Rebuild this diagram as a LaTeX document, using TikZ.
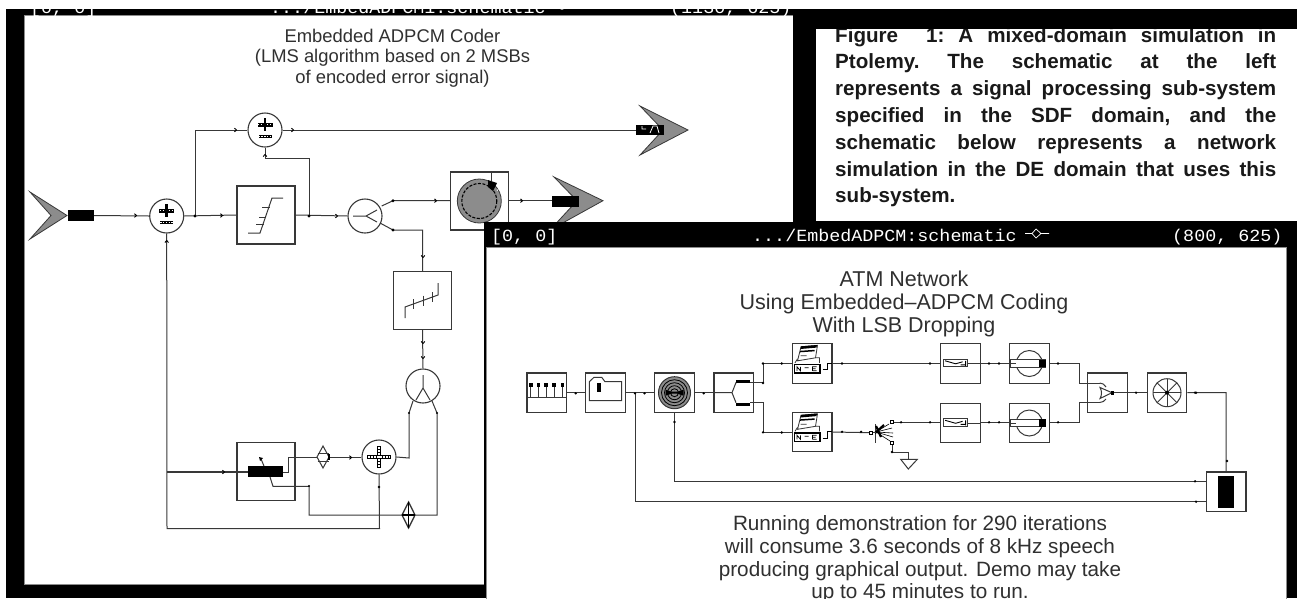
\documentclass[tikz,border=0pt]{standalone}
\usepackage{fontspec}
\usetikzlibrary{calc}
\setmainfont{Liberation Sans}
\newfontfamily\titlemono[FakeStretch=1.08]{Liberation Mono}
\definecolor{ink}{HTML}{383838}
\definecolor{txt}{HTML}{303030}
\definecolor{dither}{HTML}{8C8C8C}
\tikzset{
  unit/.style={draw=ink,line width=1.1pt,fill=white,rectangle,inner sep=0pt,minimum width=#1,minimum height=#1},
  disc/.style={draw=ink,line width=1.1pt,fill=white,circle,inner sep=0pt,minimum size=#1},
  pt/.style={inner sep=0pt,minimum size=0pt,outer sep=0pt},
  wire/.style={draw=ink,line width=1pt},
  glyph/.style={draw=ink,line width=1pt},
  blackbar/.style={fill=black},
  chevron/.style={draw=ink,line width=.8pt,fill=dither},
  mono/.style={text=white,font=\titlemono\fontsize{17}{17}\selectfont,anchor=base west,inner sep=0pt},
  canvas/.style={fill=white,draw=black!45,line width=.8pt},
  head/.style={text=txt,align=center,inner sep=0pt,font=\fontsize{18.4}{#1}\selectfont},
  headR/.style={text=txt,align=center,inner sep=0pt,font=\fontsize{21.5}{#1}\selectfont},
  headS/.style={text=txt,align=center,inner sep=0pt,font=\fontsize{20.7}{#1}\selectfont},
  tick/.style={draw=black,line width=.9pt}
}
\newcommand\tkr[2]{\draw[tick] (#1-1.5,#2-1.8)--(#1+.5,#2)--(#1-1.5,#2+1.8);}
\newcommand\tkd[2]{\draw[tick] (#1-1.8,#2-1.5)--(#1,#2+.5)--(#1+1.8,#2-1.5);}
\newcommand\tku[2]{\draw[tick] (#1-1.8,#2+1.5)--(#1,#2-.5)--(#1+1.8,#2+1.5);}
\begin{document}
\begin{tikzpicture}[x=1pt,y=-1pt]
\useasboundingbox (0,0) rectangle (1297,598);
\begin{scope}
\clip (0,0) rectangle (1297,598);
% ---------- left window
\fill[black] (6,9) rectangle (793,598);
\fill[black] (793,9) rectangle (1297,222);
\draw[canvas] (24,15) rectangle (793,584);
\begin{scope}
\clip (0,9) rectangle (1297,15);
\node[mono] (ttlA) at (30,13) {[0, 0]};
\node[mono] (ttlB) at (270,13) {.../EmbedADPCM1:schematic •};
\node[mono] (ttlC) at (670,13) {(1130, 625)};
\end{scope}

\node[head=20.5pt] (ttlL) at (392.5,58) {Embedded ADPCM Coder\\(LMS algorithm based on 2 MSBs\\of encoded error signal)};

% left: nodes
\node[disc=34] (add1) at (166.7,216) {};
\node[disc=34] (add2) at (265,130) {};
\node[disc=34] (fork1) at (365,216) {};
\node[disc=34] (fork2) at (423,386) {};
\node[disc=34] (add3) at (379,457) {};
\node[unit=58] (limit) at (266,215) {};
\node[unit=58] (quant) at (422.5,300.5) {};
\node[unit=58] (delay) at (479.3,201) {};
\node[unit=58] (lms) at (266,471.5) {};
\node[pt] (inbar) at (94,215.5) {};
\node[pt] (outbarA) at (636,130) {};
\node[pt] (outbarB) at (552,200.7) {};
\node[pt] (diaA) at (323,457) {};
\node[pt] (diaB) at (408.6,515) {};
\node[pt] (lmsR) at (283,472) {};
\node[pt] (lmsL) at (248,472) {};
\node[pt] (lmsB) at (270,477) {};
\coordinate (jA) at (195,216);
\coordinate (jB) at (309,216);
\coordinate (f1a) at (393,200.7);
\coordinate (f1b) at (393,230);
\coordinate (f2a) at (409,413);
\coordinate (f2b) at (437,413);
\coordinate (cnA) at (167,472);
\coordinate (cnB) at (167,528.7);

% left: wires
\draw[wire] (inbar) -- (add1.west);
\draw[wire] (add1.east) -- (limit.west);
\draw[wire] (limit.east) -- (fork1.west);
\draw[wire] (jA) |- (add2.west);
\draw[wire] (add2.east) -- (outbarA);
\draw[wire] (add2.south) |- (309,158) -- (jB);
\draw[wire] (381.7,206) -- (f1a) -- (delay.west |- f1a);
\draw[wire] (380,223) -- (f1b) -| (quant.north);
\draw[wire] (delay.east |- outbarB) -- (outbarB);
\draw[wire] (quant.south) -- (fork2.north);
\draw[wire] (413,401) -- (f2a) -- (409,458) -- (add3.east);
\draw[wire] (432,401) -- (f2b) |- (diaB);
\draw[wire] (diaB) -- (309,515) -- (309,486.3) -- (273,486.3) -- (lmsB);
\draw[wire] (add3.west) -- (diaA) -- (288,457) -- (288,472) -- (lmsR);
\draw[wire] (add1.south) -- (cnB) -- (379.5,528.7) -- (add3.south);
\draw[wire,line width=1.2pt] (cnA) -- (lmsL);

% left: terminals
\draw[chevron] (30,192) -- (67,215.5) -- (30,239) -- (51,215.5) -- cycle;
\fill[blackbar] (68,210) rectangle (94,221);
\draw[chevron] (640,106) -- (688,130) -- (640,155) -- (663,130) -- cycle;
\fill[blackbar] (636,124.5) rectangle (664,135);
\draw[white,line width=.8pt] (642,126)--(642,129)--(646,129) (650,133)--(653,126)--(657,126)--(659,133);
\draw[chevron] (554,177) -- (603,200.7) -- (550,230) -- (577,200.7) -- cycle;
\fill[blackbar] (552,195.5) rectangle (579,206.5);

% left: adder glyphs
\foreach \c in {add1,add2}{
  \fill[black] ($(\c)+(-1.3,-12)$) rectangle ($(\c)+(1.3,1)$);
  \fill[black] ($(\c)+(-7.5,-7.5)$) rectangle ($(\c)+(7.5,-3.5)$);
  \fill[black] ($(\c)+(-6.5,4.5)$) rectangle ($(\c)+(6.5,8)$);
  \draw[white,line width=1pt,dash pattern=on 1.4pt off 1.4pt] ($(\c)+(-6.5,6.2)$) -- ($(\c)+(6.5,6.2)$) ($(\c)+(-7,-5.5)$) -- ($(\c)+(-2,-5.5)$) ($(\c)+(2,-5.5)$) -- ($(\c)+(7,-5.5)$);
}
\fill[black] ($(add3)+(-2.3,-11)$) rectangle ($(add3)+(2.3,11)$);
\fill[black] ($(add3)+(-12,-2.3)$) rectangle ($(add3)+(12,2.3)$);
\draw[white,line width=1.5pt,dash pattern=on 1.6pt off 1.4pt] ($(add3)+(0,-10)$) -- ($(add3)+(0,10)$) ($(add3)+(-11,0)$) -- ($(add3)+(11,0)$);

% left: limiter
\draw[glyph] (248,233) -- (260,233) -- (272,198) -- (283,198);
\draw[glyph] (262,207) -- (269.5,207) (259,217) -- (266,217) (256,224) -- (264,224);
% left: fork 1, fork 2
\draw[glyph] (353,216) -- (366,216) -- (377,210) (366,216) -- (377,222);
\draw[glyph] (423,375) -- (423,388) -- (416,400) (423,388) -- (430,400);
% left: quantiser
\draw[glyph] (405,318) -- (405,307) -- (438,295) -- (438,283);
\foreach \q/\r in {413/304,423/300.5,432/297}{ \draw[glyph] (\q,\r-5) -- (\q,\r+5); }
% left: delay dial
\fill[dither,draw=ink,line width=.8pt] (delay) circle[radius=22];
\draw[black,line width=1.1pt,dash pattern=on 3pt off 1.5pt] (delay) circle[radius=17.5];
\draw[glyph] (491,173) -- (491,181);
\fill[black] (488,180) -- (497,183) -- (493,191) -- (488,187) -- cycle;
\draw[white,line width=.6pt] (497,184) -- (502,183) -- (497,191);
% left: lms bar
\fill[blackbar] (248,466) rectangle (283,477);
\draw[glyph] (264,466) -- (261,459);
\fill[black] (259,457) -- (263,458) -- (260,461) -- cycle;
% left: diamonds
\draw[glyph,fill=white] (323,446) -- (329,457) -- (323,468) -- (317,457) -- cycle;
\draw[glyph] (317.5,453) -- (328.5,453) (317.5,461) -- (328.5,461);
\fill[black] (328,454) rectangle (330,460);
\draw[glyph,line width=1.3pt,fill=white] (408.6,502) -- (415,515) -- (408.6,528) -- (402,515) -- cycle;
\draw[black,line width=1.6pt] (408.6,502) -- (408.6,528) (402,515) -- (415,515);

% left: ticks
\foreach \p/\q in {136/215.5,222/215.5,337/216,236/130,293/130,436/200.7,522/200.7,351/457.5}{ \tkr{\p}{\q} }
\tkr{224}{472}
\tkd{423}{257}
\tkd{423}{343}
\tkd{423}{358}
\tku{166.7}{241}
\tku{265}{155}
\fill[black] (195,216) circle[radius=1.6] (309,216) circle[radius=1.6] (393,200.7) circle[radius=1.6] (393,230) circle[radius=1.6] (409,413) circle[radius=1.2] (437,413) circle[radius=1.2] (379,487) circle[radius=1.4] (309,486) circle[radius=1.2];

% ---------- caption
\fill[white] (816,29) rectangle (1297,221);
\node[inner sep=0pt,anchor=north west,text width=441pt,align=justify,font=\bfseries\fontsize{20.6}{26.8}\selectfont,text=black!90] (cap) at (835,27) {\frenchspacing Figure \ 1: A mixed-domain simulation in\linebreak Ptolemy. The schematic at the left\linebreak represents a signal processing sub-system\linebreak specified in the SDF domain, and the\linebreak schematic below represents a network\linebreak simulation in the DE domain that uses this\linebreak sub-system.};
\fill[black] (793,9) rectangle (1297,29);
\fill[black] (793,9) rectangle (816,222);

% ---------- second window
\fill[black] (484,221.5) rectangle (1297,598);
\draw[canvas] (486,247) rectangle (1286,600);
\node[mono] (ttlD) at (491,241) {[0, 0]};
\node[mono] (ttlE) at (752,241) {.../EmbedADPCM:schematic};
\node[mono] (ttlF) at (1172,241) {(800, 625)};
\draw[white,line width=.7pt] (1025,233.5) -- (1032,233.5) (1032,233.5) -- (1036,229) -- (1041,233.5) -- (1036,238) -- cycle (1041,233.5) -- (1049,233.5);

\node[headR=23pt] (ttlR) at (904,304) {ATM Network\\Using Embedded–ADPCM Coding\\With LSB Dropping};
\node[headS=22.7pt,anchor=north] (ttlS) at (920,515.5) {Running demonstration for 290 iterations\\will consume 3.6 seconds of 8 kHz speech\\producing graphical output.  Demo may take\\up to 45 minutes to run.};

% right: nodes
\node[unit=39.5] (src) at (546.7,392.7) {};
\node[unit=39.5] (gate) at (605.5,392.7) {};
\node[unit=39.5] (fan) at (674.5,392.7) {};
\node[unit=39.5] (split) at (733.7,392.7) {};
\node[unit=39.5] (prA) at (812.2,363.5) {};
\node[unit=39.5] (prB) at (812.2,432) {};
\node[unit=39.5] (qA) at (960.3,363.5) {};
\node[unit=39.5] (qB) at (960.3,423) {};
\node[unit=39.5] (sA) at (1029.3,363.5) {};
\node[unit=39.5] (sB) at (1029.3,423) {};
\node[unit=39.5] (mrg) at (1107.3,392.7) {};
\node[unit=39.5] (wh) at (1167,392.7) {};
\node[unit=39.5] (sink) at (1226.2,491.7) {};
\node[pt] (dropIn) at (871,432.7) {};
\node[pt] (dropA) at (892,422.3) {};
\node[pt] (dropB) at (892,443) {};
\node[pt] (gnd) at (908.3,459.3) {};
\coordinate (t1) at (635,392.7);
\coordinate (t1b) at (635,501.7);
\coordinate (t2b) at (674.5,481.3);

% right: wires
\draw[wire] (src.east) -- (gate.west);
\draw[wire] (gate.east) -- (fan.west);
\draw[wire] (fan.east) -- (split.west);
\draw[wire] (t1) -- (t1b) -- (sink.west |- t1b);
\draw[wire] (fan.south) -- (t2b) -- (sink.west |- t2b);
\draw[wire] (750,382.5) -- (763,382.5) |- (prA.west);
\draw[wire] (750,402.7) -- (763,402.7) |- (prB.west);
\draw[wire] (prA.east) -- (qA.west);
\draw[wire] (qA.east) -- (sA.west);
\draw[wire] (prB.east) -- (dropIn);
\draw[wire] (dropA) -- (qB.west |- dropA);
\draw[wire] (qB.east |- dropA) -- (sB.west |- dropA);
\draw[wire] (dropB) -- (892,452) -| (gnd);
\draw[wire] (sA.east) -- (1079,363.5) -- (1079,383) -- (mrg.west |- 1079,383);
\draw[wire] (sB.east |- dropA) -- (1079,422.3) -- (1079,402.5) -- (mrg.west |- 1079,402.5);
\draw[wire] (mrg.east) -- (wh.west);
\draw[wire] (wh.east) -- (1226,392.7) -- (sink.north);

% right: icons
\draw[glyph] (527,397) -- (566.5,397);
\foreach \q in {530.7,538.3,546,554,562.3}{
  \draw[glyph] (\q,384.5) -- (\q,397);
  \fill[black] (\q-1.8,383) rectangle (\q+1.8,386.5);
}
\draw[glyph] (589.3,400.7) -- (589.3,381.7) -- (594,377.3) -- (601.7,377.3) -- (605,381.7) -- (621.7,381.7) -- (621.7,400.7) -- cycle;
\fill[black] (596.7,382.7) rectangle (601,392.3);

\draw[ink,line width=1pt,fill=dither] (fan) circle[radius=16];
\begin{scope}
\clip (fan) circle[radius=16];
\foreach \a in {0,11.25,...,349}{ \draw[black,line width=.8pt] (fan) -- ++(\a:16); }
\foreach \r in {4,7,10,13}{ \draw[black,line width=.8pt] (fan) circle[radius=\r]; }
\fill[black] ($(fan)+(-9,-3)$) -- ($(fan)+(-3,-1)$) -- ($(fan)+(3,-1)$) -- ($(fan)+(9,-3)$) -- ($(fan)+(9,3)$) -- ($(fan)+(3,1)$) -- ($(fan)+(-3,1)$) -- ($(fan)+(-9,3)$) -- cycle;
\end{scope}

\draw[wire] (split.west) -- (732,392.7) -- (736,382.5) -- (736.5,382.5) (732,392.7) -- (736,402.7);
\fill[black] (736,379.5) rectangle (750,383);
\fill[black] (736,402.5) rectangle (750,406);

\foreach \n in {prA,prB}{
\begin{scope}[shift={($(\n)+(-19.7,-19.7)$)}]
  \draw[glyph,fill=white,line width=.8pt] (5,17) -- (8.5,3) -- (25,1.5) -- (23,14) -- cycle;
  \fill[black] (8.5,2.5) -- (24.5,1.2) -- (24,3.8) -- (8,5.2) -- cycle;
  \fill[black] (7.5,7) -- (22,6) -- (22,7.5) -- (7.5,8.5) -- cycle;
  \draw[glyph,line width=.8pt] (8,12) -- (14,12) (2.5,19) -- (5,15) (23,14) -- (27,14) -- (27,19);
  \fill[black] (1.3,20) rectangle (28,30);
  \fill[white] (2.8,21.5) rectangle (26.5,28.5);
  \draw[black,line width=.8pt] (4.5,27) -- (4.5,23) -- (8,27) -- (8,23) (12,24) -- (16,24) (20,27) -- (20,23) -- (24,23) (20,25) -- (23,25) (20,27) -- (24,27);
  \draw[black,line width=.9pt] (30,26) -- (35,26) -- (35,19.5) -- (39.5,19.5);
\end{scope}
}
\foreach \n in {qA,qB}{
\begin{scope}[shift={($(\n)+(-19.7,-19.7)$)}]
  \draw[glyph,fill=white] (2.5,15.5) rectangle (26.5,23);
  \draw[black,line width=.9pt] (4.5,17) -- (15,20) -- (22,18) (20,21) -- (25,21) (25,17) -- (25,22);
  \draw[wire] (26.5,19.7) -- (39.5,19.7);
\end{scope}
}
\foreach \n in {sA,sB}{
\begin{scope}[shift={(\n)}]
  \draw[glyph] (0,0) circle[radius=13];
  \draw[glyph,fill=white] (-18.5,-3.7) rectangle (16,3.7);
  \fill[black] (10,-3.7) rectangle (16.5,3.7);
  \draw[wire] (-19.7,0) -- (-13,0);
\end{scope}
}
\draw[glyph] (1099.7,383) .. controls (1103,383) and (1104,384.5) .. (1106,387) (1099.7,402.5) .. controls (1103,402.5) and (1104,401) .. (1106,399);
\draw[glyph] (1087.3,383) -- (1100,383) (1087.3,402.5) -- (1100,402.5);
\draw[glyph,fill=white] (1100,387.5) .. controls (1102,391) and (1102,395) .. (1100,398.5) -- (1112,392.7) -- cycle;
\fill[black] (1111,391) rectangle (1114,394.5);
\draw[wire] (1114,392.7) -- (mrg.east);

\draw[glyph] (wh) circle[radius=14];
\foreach \a in {0,45,90,135}{ \draw[glyph,line width=.8pt] ($(wh)+(\a:14)$) -- ($(wh)+(\a+180:14)$); }
\fill[black] (wh) circle[radius=2];

\fill[black] (1217.7,475.7) rectangle (1234.3,507.7);

% right: drop fan
\draw[glyph] (875,424) -- (875,443);
\draw[black,line width=2.2pt] (876,426) -- (881,437) (875,433) -- (884,425);
\foreach \q/\r in {889/424,892/428,893/433,893/437,890/441}{ \draw[black,line width=.6pt] (876,432) -- (\q,\r); }
\draw[wire] (dropIn) -- (876,432.7);
\draw[black,line width=.8pt,fill=white] (dropIn) ++(-1.5,-1.5) rectangle ++(3,3);
\draw[black,line width=.8pt,fill=white] (dropA) ++(-1.5,-1.5) rectangle ++(3,3);
\draw[black,line width=.8pt,fill=white] (dropB) ++(-1.5,-1.5) rectangle ++(3,3);
\draw[glyph,fill=white] (900.7,459.3) -- (917.3,459.3) -- (908.3,469) -- cycle;

% right: ticks
\foreach \p/\q in {575.7/393.3,644.5/393.3,635/393.3,703.7/393.3,781.7/363.5,842/363.5,781.7/432.5,842/431.8,861/431.8,930/363.5,989/363.5,999/363.5,930/422.3,989/422.3,999/422.3,901/422.3,1058/363.5,1058/422.3,1136/392.7,1195/392.7,1196/392.7,763/383,763/432.3,763/363.5,674.5/422,1227/461,1195/481.3,1196/501.7,892/452}{
  \fill[black] (\p,\q) circle[radius=1.3];
}
\end{scope}
\end{tikzpicture}
\end{document}
